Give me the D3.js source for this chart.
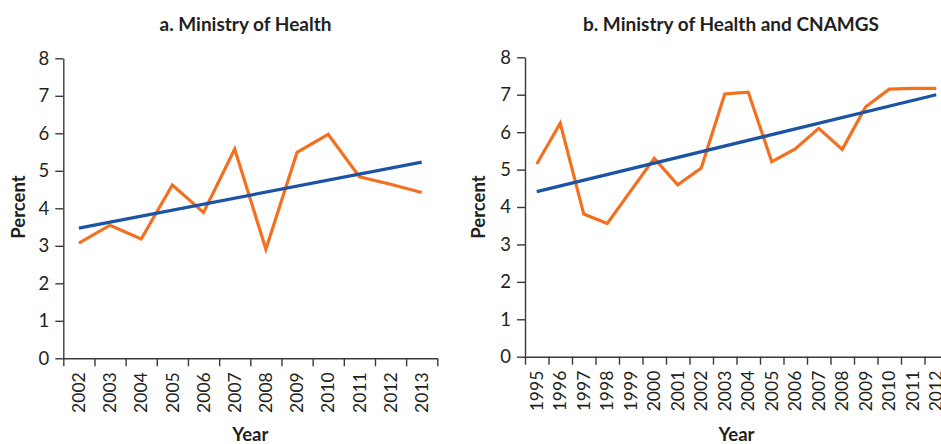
<!DOCTYPE html>
<html>
<head>
<meta charset="utf-8">
<script src="https://cdn.jsdelivr.net/npm/d3@7"></script>
<style>
  html, body { margin: 0; padding: 0; background: #fff; }
  svg { display: block; }
  text { font-family: Lato, "Open Sans", sans-serif; fill: #231f20; }
</style>
</head>
<body>
<svg id="chart" width="941" height="444"></svg>
<script>
// ---- Data ----
const yearsA = ["2002","2003","2004","2005","2006","2007","2008","2009","2010","2011","2012","2013"];
const valuesA = [3.07, 3.55, 3.18, 4.62, 3.89, 5.58, 2.91, 5.49, 5.97, 4.84, 4.64, 4.42];
const trendA = [3.47, 5.23]; // trend value at first and last year

const yearsB = ["1995","1996","1997","1998","1999","2000","2001","2002","2003","2004","2005","2006","2007","2008","2009","2010","2011","2012"];
const valuesB = [5.15, 6.24, 3.81, 3.56, 4.43, 5.30, 4.59, 5.04, 7.02, 7.07, 5.21, 5.55, 6.10, 5.54, 6.68, 7.15, 7.17, 7.17];
const trendB = [4.41, 7.00];

const yTicks = [0, 1, 2, 3, 4, 5, 6, 7, 8];
const titles = ["a. Ministry of Health", "b. Ministry of Health and CNAMGS"];

const ORANGE = "#f37021";
const BLUE = "#1c54a3";
const AXIS = "#3a3a3a";

const svg = d3.select("#chart");

function panel(cfg) {
  const { years, values, trend, x0, x1, y0, y1, title, titleX, percentX } = cfg;
  const g = svg.append("g");

  const x = d3.scaleBand().domain(years).range([x0, x1]).padding(0);
  const xEdges = d3.scaleLinear().domain([0, years.length]).range([x0, x1]);
  const y = d3.scaleLinear().domain([0, 8]).range([y0, y1]);

  // y axis
  const ya = g.append("g").attr("transform", `translate(${x0},0)`)
    .call(d3.axisLeft(y).tickValues(yTicks).tickSize(8).tickSizeOuter(0).tickPadding(6));
  ya.selectAll("text").style("font-size", "18.5px").style("font-family", "Lato, sans-serif").attr("fill", "#231f20");

  // x axis tick marks at band edges
  const xt = g.append("g").attr("transform", `translate(0,${y0})`)
    .call(d3.axisBottom(xEdges).tickValues(d3.range(0, years.length + 1)).tickFormat("").tickSize(8).tickSizeOuter(0));

  // x labels at band centers
  const xl = g.append("g").attr("transform", `translate(0,${y0})`)
    .call(d3.axisBottom(x).tickSize(0).tickPadding(0));
  xl.select(".domain").remove();
  xl.selectAll("text")
    .style("font-size", "17.5px").style("font-family", "Lato, sans-serif").attr("fill", "#231f20")
    .attr("transform", "rotate(-90)")
    .attr("text-anchor", "end")
    .attr("x", -14).attr("y", 0).attr("dy", "0.35em");

  [ya, xt].forEach(a => {
    a.selectAll(".domain").attr("stroke", AXIS).attr("stroke-width", 1.4);
    a.selectAll(".tick line").attr("stroke", AXIS).attr("stroke-width", 1.4);
  });

  const cx = d => x(d) + x.bandwidth() / 2;

  // data line
  const line = d3.line().x((d, i) => cx(years[i])).y(d => y(d));
  g.append("path").datum(values)
    .attr("d", line).attr("fill", "none")
    .attr("stroke", ORANGE).attr("stroke-width", 3.2).attr("stroke-linejoin", "miter");

  // trend line
  const tpts = [[years[0], trend[0]], [years[years.length - 1], trend[1]]];
  g.append("path").datum(tpts)
    .attr("d", d3.line().x(d => cx(d[0])).y(d => y(d[1])))
    .attr("fill", "none").attr("stroke", BLUE).attr("stroke-width", 3.2);

  // title
  g.append("text").attr("x", titleX).attr("y", 31).attr("text-anchor", "middle")
    .style("font-size", "19px").style("font-weight", "bold").text(title);

  // axis titles
  g.append("text").attr("x", (x0 + x1) / 2).attr("y", 441).attr("text-anchor", "middle")
    .style("font-size", "18.5px").style("font-weight", "bold").text("Year");
  g.append("text").attr("transform", `translate(${percentX},207) rotate(-90)`)
    .attr("text-anchor", "middle").attr("dy", "0.35em")
    .style("font-size", "18.5px").style("font-weight", "bold").text("Percent");
}

panel({ years: yearsA, values: valuesA, trend: trendA, x0: 63.3, x1: 437.3, y0: 358.3, y1: 58.3,
        title: titles[0], titleX: 245.5, percentX: 19 });
panel({ years: yearsB, values: valuesB, trend: trendB, x0: 525, x1: 948, y0: 356.7, y1: 57.3,
        title: titles[1], titleX: 731, percentX: 479 });
</script>
</body>
</html>
